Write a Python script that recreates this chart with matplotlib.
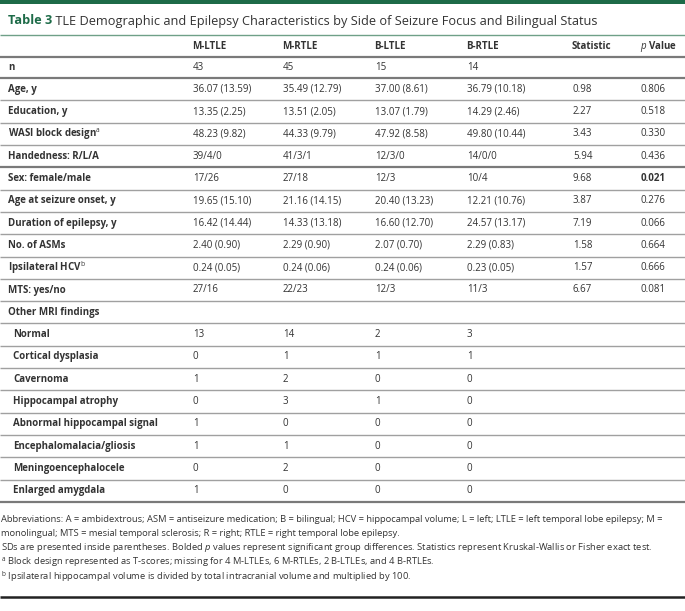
import matplotlib.pyplot as plt

plt.rcParams['font.family'] = ['Open Sans', 'DejaVu Sans']
plt.rcParams['mathtext.fontset'] = 'custom'
plt.rcParams['mathtext.rm'] = 'Open Sans'
plt.rcParams['mathtext.it'] = 'Open Sans:italic'
plt.rcParams['mathtext.bf'] = 'Open Sans:bold'

# table content
title_num = 'Table 3'
title_rest = 'TLE Demographic and Epilepsy Characteristics by Side of Seizure Focus and Bilingual Status'
headers = ['M-LTLE', 'M-RTLE', 'B-LTLE', 'B-RTLE', 'Statistic', r'$\mathit{p}$ Value']

row_labels = ['n', 'Age, y', 'Education, y', r'WASI block design$^\mathrm{a}$', 'Handedness: R/L/A',
              'Sex: female/male', 'Age at seizure onset, y', 'Duration of epilepsy, y', 'No. of ASMs',
              r'Ipsilateral HCV$^\mathrm{b}$', 'MTS: yes/no', 'Other MRI findings',
              'Normal', 'Cortical dysplasia', 'Cavernoma', 'Hippocampal atrophy',
              'Abnormal hippocampal signal', 'Encephalomalacia/gliosis', 'Meningoencephalocele',
              'Enlarged amygdala']
indented = [False] * 12 + [True] * 8

m_ltle = ['43', '36.07 (13.59)', '13.35 (2.25)', '48.23 (9.82)', '39/4/0', '17/26', '19.65 (15.10)',
          '16.42 (14.44)', '2.40 (0.90)', '0.24 (0.05)', '27/16', '', '13', '0', '1', '0', '1', '1', '0', '1']
m_rtle = ['45', '35.49 (12.79)', '13.51 (2.05)', '44.33 (9.79)', '41/3/1', '27/18', '21.16 (14.15)',
          '14.33 (13.18)', '2.29 (0.90)', '0.24 (0.06)', '22/23', '', '14', '1', '2', '3', '0', '1', '2', '0']
b_ltle = ['15', '37.00 (8.61)', '13.07 (1.79)', '47.92 (8.58)', '12/3/0', '12/3', '20.40 (13.23)',
          '16.60 (12.70)', '2.07 (0.70)', '0.24 (0.06)', '12/3', '', '2', '1', '0', '1', '0', '0', '0', '0']
b_rtle = ['14', '36.79 (10.18)', '14.29 (2.46)', '49.80 (10.44)', '14/0/0', '10/4', '12.21 (10.76)',
          '24.57 (13.17)', '2.29 (0.83)', '0.23 (0.05)', '11/3', '', '3', '1', '0', '0', '0', '0', '0', '0']
statistic = ['', '0.98', '2.27', '3.43', '5.94', '9.68', '3.87', '7.19', '1.58', '1.57', '6.67'] + [''] * 9
p_value = ['', '0.806', '0.518', '0.330', '0.436', '0.021', '0.276', '0.066', '0.664', '0.666', '0.081'] + [''] * 9
p_bold = ['0.021']

footnotes = [
    'Abbreviations: A = ambidextrous; ASM = antiseizure medication; B = bilingual; HCV = hippocampal volume; L = left; LTLE = left temporal lobe epilepsy; M =',
    'monolingual; MTS = mesial temporal sclerosis; R = right; RTLE = right temporal lobe epilepsy.',
    r'SDs are presented inside parentheses. Bolded $\mathit{p}$ values represent significant group differences. Statistics represent Kruskal-Wallis or Fisher exact test.',
    r'$^\mathrm{a}$ Block design represented as T-scores; missing for 4 M-LTLEs, 6 M-RTLEs, 2 B-LTLEs, and 4 B-RTLEs.',
    r'$^\mathrm{b}$ Ipsilateral hippocampal volume is divided by total intracranial volume and multiplied by 100.',
]

W, H = 685, 611
green = '#1d6b48'
txt = '#333333'
rule = '#a0a0a0'

fig = plt.figure(figsize=(W / 100, H / 100), dpi=100)
ax = fig.add_axes([0, 0, 1, 1])
ax.set_xlim(0, W)
ax.set_ylim(H, 0)
ax.axis('off')

# top bar and title
ax.axhspan(0, 4, color=green, lw=0)
t = ax.text(8, 21, title_num, color=green, fontsize=9.2, fontweight='bold', va='center')
ax.annotate(' ' + title_rest, xy=(1, 0), xycoords=t, va='bottom', fontsize=9.2, color=txt)
ax.hlines(35, 0, W, color='#6fa088', lw=1)

col_x = [192, 282, 374, 466, 572, 640]
fs = 7.0

for x, h in zip(col_x, headers):
    ax.text(x, 46.5, h, fontsize=fs, fontweight='bold', color=txt, va='center')
ax.hlines(57, 0, W, color='#7a7a7a', lw=1.6)

y0, dy = 67, 22.3
columns = [m_ltle, m_rtle, b_ltle, b_rtle, statistic, p_value]
for i, lab in enumerate(row_labels):
    y = y0 + i * dy
    ax.text(13 if indented[i] else 8, y, lab, fontsize=fs, fontweight='bold', color=txt, va='center')
    for x, col in zip(col_x, columns):
        v = col[i]
        w = 'bold' if (col is p_value and v in p_bold) else 'normal'
        ax.text(x + 1, y, v, fontsize=fs, color=txt, va='center', fontweight=w)
    yl = y + dy / 2
    thick = i in (0, 4, len(row_labels) - 1)
    ax.hlines(yl, 0, W, color='#7a7a7a' if thick else rule, lw=1.6 if thick else 1.0)

fy = 519
for k, line in enumerate(footnotes):
    ax.text(1, fy + k * 14.4, line, fontsize=6.75, color=txt, va='center')

ax.hlines(597, 0, W, color='#222222', lw=1.8)

fig.savefig('out.png', dpi=100)
